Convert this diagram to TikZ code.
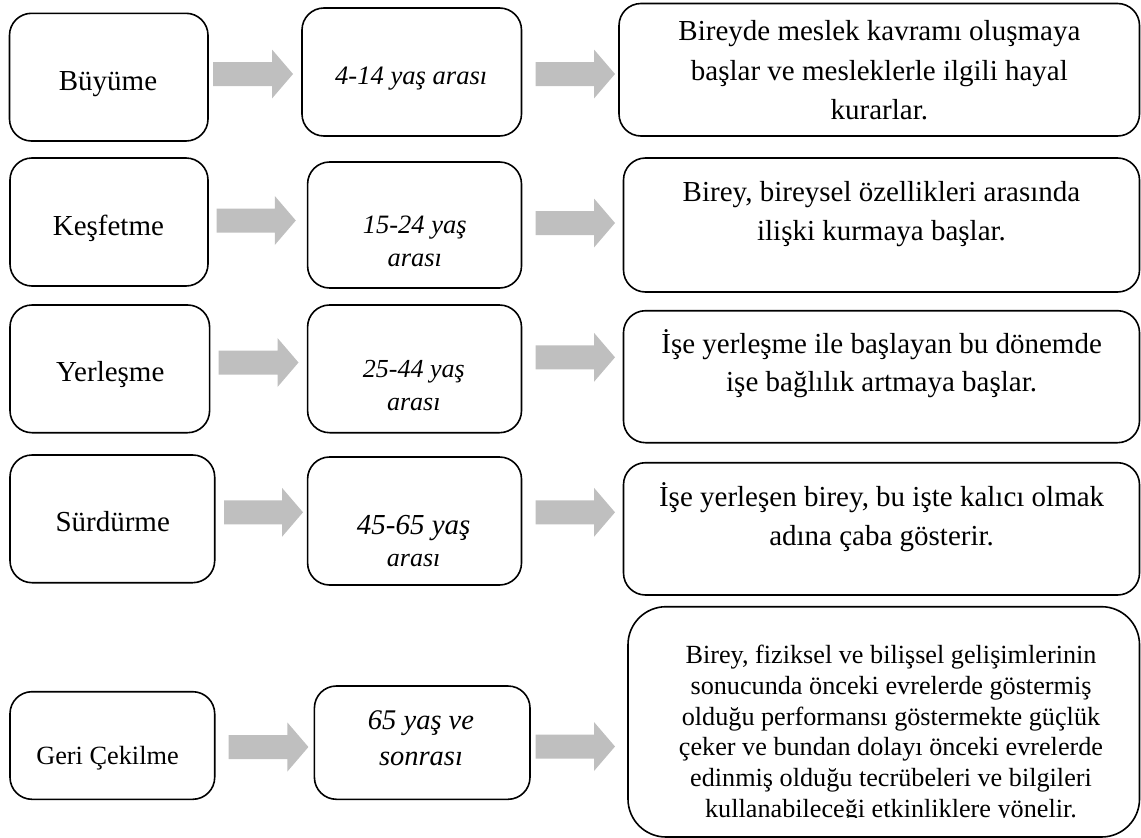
\documentclass[tikz,border=0pt]{standalone}
\usepackage{fontspec}
\setmainfont{Liberation Serif}
\usetikzlibrary{calc}
\definecolor{arrowgray}{HTML}{BFBFBF}
\tikzset{
  stagebox/.style={draw=black, line width=1.6pt, rounded corners=22pt, inner sep=0pt},
  bigbox/.style={stagebox, rounded corners=38pt},
  % multi-line texts: the base anchor sits on the last line's baseline
  txt/.style={inner sep=0pt, align=center, anchor=base},
  fsize/.style 2 args={font=\fontsize{#1}{#2}\selectfont},
  fsizeit/.style 2 args={font=\fontsize{#1}{#2}\selectfont\itshape},
  blockarrow/.style={fill=arrowgray, draw=none,
    to path={let \p1=(\tikztostart), \p2=(\tikztotarget) in
      (\x1,\y1+12pt) -- (\x2-21pt,\y1+12pt) -- (\x2-21pt,\y1+24.5pt) -- (\x2,\y1)
      -- (\x2-21pt,\y1-24.5pt) -- (\x2-21pt,\y1-12pt) -- (\x1,\y1-12pt) -- cycle}},
}
\begin{document}
\begin{tikzpicture}[x=1pt, y=-1pt]
\useasboundingbox (0,0) rectangle (1141,838);

% ---- boxes: stage name, age range, description ----
\node[stagebox, minimum width=198.5pt, minimum height=127.7pt] (b11) at (108.75,77.15) {};
\node[stagebox, minimum width=219.5pt, minimum height=128pt]   (b12) at (411.75,72) {};
\node[stagebox, minimum width=520.5pt, minimum height=132.5pt] (b13) at (879.25,69.75) {};

\node[stagebox, minimum width=198pt,   minimum height=128pt]   (b21) at (109,222) {};
\node[stagebox, minimum width=213.9pt, minimum height=126pt]   (b22) at (414.55,225) {};
\node[stagebox, minimum width=516pt,   minimum height=134pt]   (b23) at (881.5,225) {};

\node[stagebox, minimum width=199.6pt, minimum height=127.7pt] (b31) at (109.8,368.85) {};
\node[stagebox, minimum width=213.9pt, minimum height=127.7pt] (b32) at (414.55,368.85) {};
\node[stagebox, minimum width=516pt,   minimum height=132pt]   (b33) at (881.5,376.7) {};

\node[stagebox, minimum width=204.7pt, minimum height=127.7pt] (b41) at (112.35,518.85) {};
\node[stagebox, minimum width=213.9pt, minimum height=128pt]   (b42) at (414.55,521) {};
\node[stagebox, minimum width=516pt,   minimum height=132.3pt] (b43) at (881.5,528.85) {};

\node[stagebox, minimum width=204.7pt, minimum height=107.6pt] (b51) at (112.35,745.5) {};
\node[stagebox, minimum width=215.6pt, minimum height=113.3pt] (b52) at (422.2,742.65) {};
\node[bigbox,   minimum width=511.5pt, minimum height=230.3pt] (b53) at (883.75,721.85) {};

% ---- texts ----
\node[txt, fsize={29}{35}] (t11) at (108,90.5) {Büyüme};
\node[txt, fsizeit={26.6}{33}] (t12) at (411.2,84.5) {4-14 yaş arası};
\node[txt, fsize={29}{39.5}] (t13) at (879.4,119.7)
  {Bireyde meslek kavramı oluşmaya\\başlar ve mesleklerle ilgili hayal\\kurarlar.};

\node[txt, fsize={29}{35}] (t21) at (108.4,235) {Keşfetme};
\node[txt, fsizeit={26.5}{33.5}] (t22) at (414.8,266.8) {15-24 yaş\\arası};
\node[txt, fsize={29}{38.3}] (t23) at (881.5,240)
  {Birey, bireysel özellikleri arasında\\ilişki kurmaya başlar.};

\node[txt, fsize={29}{35}] (t31) at (110.3,381.7) {Yerleşme};
\node[txt, fsizeit={26}{33}] (t32) at (413.8,410.3) {25-44 yaş\\arası};
\node[txt, fsize={29}{38.4}] (t33) at (881.6,391.7)
  {İşe yerleşme ile başlayan bu dönemde\\işe bağlılık artmaya başlar.};

\node[txt, fsize={29}{35}] (t41) at (112.7,531.7) {Sürdürme};
\node[txt, fsizeit={29}{32}] (t42) at (413.7,566)
  {45-65 yaş\\{\fontsize{26}{32}\selectfont arası}};
\node[txt, fsize={29}{38.3}] (t43) at (881.6,545)
  {İşe yerleşen birey, bu işte kalıcı olmak\\adına çaba gösterir.};

\node[txt, fsize={26.3}{32}] (t51) at (107.5,764) {Geri Çekilme};
\node[txt, fsizeit={28.5}{35.7}] (t52) at (421,765) {65 yaş ve\\sonrası};
\begin{scope}
  \clip (600,600) rectangle (1141,817.5);
  \node[txt, fsize={26.2}{30.8}] (t53) at (891,817.5)
    {Birey, fiziksel ve bilişsel gelişimlerinin\\sonucunda önceki evrelerde göstermiş\\olduğu performansı göstermekte güçlük\\çeker ve bundan dolayı önceki evrelerde\\edinmiş olduğu tecrübeleri ve bilgileri\\kullanabileceği etkinliklere yönelir.};
\end{scope}

% ---- block arrows between the columns ----
\coordinate (a11s) at (213,74);     \coordinate (a11e) at (293,74);
\coordinate (a12s) at (535.7,74);   \coordinate (a12e) at (615,74);
\coordinate (a21s) at (216.7,220.5);\coordinate (a21e) at (295.8,220.5);
\coordinate (a22s) at (535.7,223);  \coordinate (a22e) at (615,223);
\coordinate (a31s) at (218.7,362.5);\coordinate (a31e) at (298.5,362.5);
\coordinate (a32s) at (535.7,357.3);\coordinate (a32e) at (615,357.3);
\coordinate (a41s) at (224,512.3);  \coordinate (a41e) at (303,512.3);
\coordinate (a42s) at (535.7,512.3);\coordinate (a42e) at (615,512.3);
\coordinate (a51s) at (228.5,747);  \coordinate (a51e) at (308.4,747);
\coordinate (a52s) at (535.7,746.5);\coordinate (a52e) at (615,746.5);

\foreach \r in {1,...,5}{
  \path[blockarrow] (a\r1s) to (a\r1e);
  \path[blockarrow] (a\r2s) to (a\r2e);
}
\end{tikzpicture}
\end{document}
